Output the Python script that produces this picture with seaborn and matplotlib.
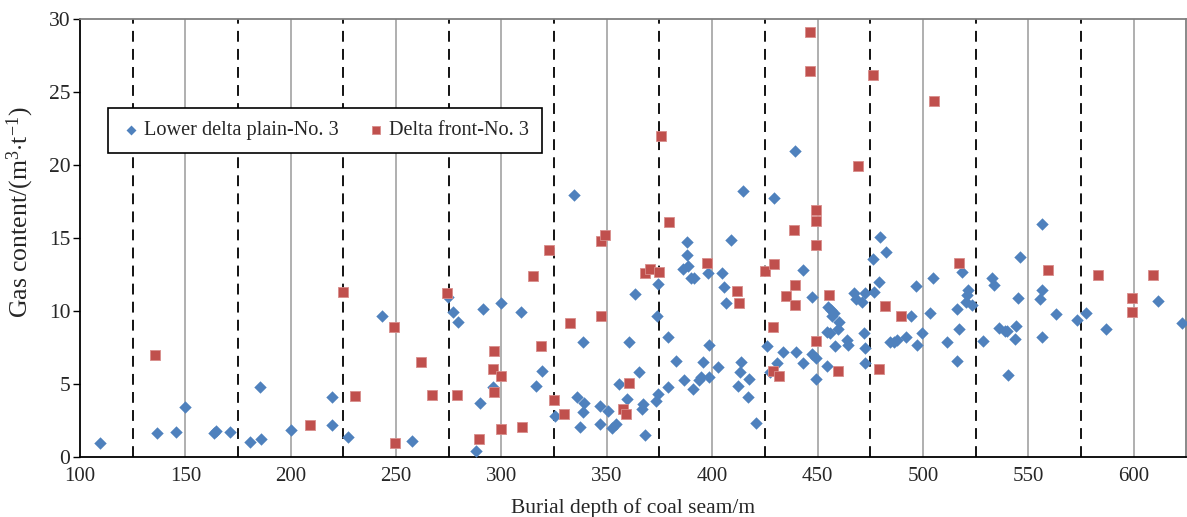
import matplotlib
matplotlib.use("Agg")
import matplotlib.pyplot as plt
import seaborn as sns
import pandas as pd

# ---------------- data ----------------
lower_x = [109.3, 136.6, 145.7, 150.0, 163.5, 164.7, 171.0, 180.8, 185.8, 185.2, 199.9, 219.5, 219.5, 227.3,
           243.4, 257.4, 274.5, 276.9, 279.4, 287.9, 290.0, 291.3, 296.2, 299.6, 309.4, 316.4, 319.4, 325.6,
           334.6, 335.8, 338.5, 339.3, 338.5, 337.4, 346.7, 350.7, 346.7, 352.7, 354.3, 355.9, 360.6, 359.8,
           363.3, 365.1, 366.5, 367.4, 368.2, 373.3, 374.5, 373.6, 374.5, 379.0, 379.1, 382.8, 386.2, 388.3,
           388.0, 388.0, 386.7, 389.9, 391.4, 391.0, 393.8, 394.6, 395.7, 398.3, 398.3, 397.8, 403.0, 404.6,
           405.4, 406.5, 408.9, 412.3, 413.1, 413.9, 414.7, 417.5, 417.2, 421.0, 426.2, 427.4, 429.4, 431.0,
           433.8, 439.4, 439.7, 443.3, 443.3, 447.3, 447.3, 449.5, 449.3, 454.5, 454.7, 456.0, 455.0, 456.6,
           458.0, 456.7, 458.4, 459.8, 460.3, 463.9, 464.5, 467.3, 468.4, 471.3, 472.4, 472.1, 472.4, 472.6,
           476.5, 476.8, 479.2, 479.5, 482.4, 484.3, 486.3, 487.9, 491.8, 494.2, 496.6, 497.4, 499.4, 503.2,
           504.9, 511.6, 516.3, 516.3, 517.1, 518.4, 521.6, 520.8, 520.3, 523.4, 528.7, 532.9, 533.7, 536.1,
           538.9, 540.0, 540.4, 543.5, 544.3, 545.2, 545.9, 556.6, 556.6, 555.8, 556.6, 563.2, 572.9, 577.2,
           586.7, 611.5, 623.0]
lower_y = [0.96, 1.64, 1.75, 3.42, 1.64, 1.8, 1.75, 1.07, 1.27, 4.8, 1.84, 4.1, 2.2, 1.4,
           9.68, 1.1, 11.0, 9.97, 9.24, 0.45, 3.7, 10.16, 4.84, 10.6, 9.97, 4.9, 5.89, 2.83,
           18.0, 4.1, 7.92, 3.74, 3.08, 2.05, 3.5, 3.18, 2.28, 2.0, 2.3, 5.0, 7.92, 4.0,
           11.18, 5.86, 3.29, 3.63, 1.53, 3.86, 4.34, 9.68, 11.87, 8.26, 4.84, 6.62, 12.88, 13.1,
           13.86, 14.77, 5.3, 12.26, 12.26, 4.66, 5.3, 5.5, 6.55, 5.53, 7.69, 12.6, 6.16, 12.6,
           11.64, 10.59, 14.88, 4.9, 5.86, 6.55, 18.24, 5.36, 4.15, 2.33, 7.62, 5.86, 17.78, 6.48,
           7.23, 21.0, 7.23, 12.83, 6.44, 11.0, 7.07, 6.78, 5.36, 6.27, 8.6, 8.5, 10.3, 10.1,
           9.9, 9.7, 7.62, 8.76, 9.25, 8.03, 7.7, 11.27, 10.84, 10.66, 11.27, 8.54, 7.46, 6.44,
           13.58, 11.34, 12.03, 15.11, 14.08, 7.92, 7.92, 8.03, 8.26, 9.68, 11.73, 7.69, 8.5, 9.9,
           12.3, 7.88, 10.16, 6.62, 8.77, 12.71, 11.46, 11.1, 10.66, 10.4, 7.99, 12.26, 11.8, 8.88,
           8.65, 8.65, 5.61, 8.1, 8.97, 10.89, 13.74, 15.96, 11.46, 10.84, 8.26, 9.79, 9.4, 9.9,
           8.77, 10.73, 9.18]

front_x = [135.4, 209.2, 224.9, 230.7, 248.9, 249.7, 261.9, 266.9, 274.2, 278.8, 289.2, 296.6, 295.8, 296.3,
           299.6, 299.6, 309.6, 315.2, 318.7, 322.5, 324.9, 329.6, 332.5, 347.4, 347.4, 349.0, 357.5, 359.1,
           360.6, 368.0, 370.4, 374.9, 375.7, 379.3, 397.6, 411.6, 412.8, 425.0, 429.4, 429.1, 429.0, 431.5,
           435.0, 439.0, 439.4, 439.4, 446.3, 446.3, 449.5, 449.5, 449.5, 449.5, 455.5, 459.5, 469.4, 476.5,
           481.9, 479.2, 489.5, 505.3, 517.1, 559.3, 583.2, 599.3, 599.3, 609.3]
front_y = [7.0, 2.2, 11.3, 4.2, 8.95, 1.0, 6.5, 4.27, 11.23, 4.27, 1.23, 7.28, 6.03, 4.5,
           5.57, 1.92, 2.05, 12.44, 7.64, 14.18, 3.92, 3.0, 9.18, 9.68, 14.8, 15.2, 3.29, 3.0,
           5.07, 12.6, 12.88, 12.72, 22.03, 16.14, 13.33, 11.41, 10.55, 12.78, 13.22, 8.9, 5.91, 5.57,
           11.05, 15.6, 11.8, 10.43, 29.15, 26.46, 16.94, 16.18, 14.52, 7.99, 11.12, 5.91, 19.95, 26.18,
           10.36, 6.03, 9.68, 24.4, 13.29, 12.83, 12.46, 10.89, 9.93, 12.46]

series_names = ["Lower delta plain-No. 3", "Delta front-No. 3"]
x_ticks = [100, 150, 200, 250, 300, 350, 400, 450, 500, 550, 600]
solid_lines = [150, 200, 250, 300, 350, 400, 450, 500, 550, 600]
dashed_lines = [125, 175, 225, 275, 325, 375, 425, 475, 525, 575]
y_ticks = [0, 5, 10, 15, 20, 25, 30]

df_lower = pd.DataFrame({"depth": lower_x, "gas": lower_y, "group": series_names[0]})
df_front = pd.DataFrame({"depth": front_x, "gas": front_y, "group": series_names[1]})

# ---------------- style ----------------
sns.set_style("white")
plt.rcParams["font.family"] = ["Liberation Serif", "DejaVu Serif"]
plt.rcParams["mathtext.fontset"] = "custom"
plt.rcParams["mathtext.rm"] = "Liberation Serif"
plt.rcParams["mathtext.it"] = "Liberation Serif:italic"

fig = plt.figure(figsize=(11.87, 5.17), dpi=100)
ax = fig.add_axes([80 / 1187, 1 - 457.3 / 517, 1106.3 / 1187, 438 / 517])

for xv in solid_lines:
    ax.axvline(xv, color="#9a9a9a", lw=1.1, zorder=1)
for xv in dashed_lines:
    ax.axvline(xv, color="black", lw=1.3, ls=(0, (6, 4)), zorder=1)

blue = "#4F81BD"
red = "#C0504D"
sns.scatterplot(data=df_lower, x="depth", y="gas", marker="D", color=blue, s=40,
                linewidth=0, label=series_names[0], ax=ax, zorder=3)
sns.scatterplot(data=df_front, x="depth", y="gas", marker="s", color=red, s=50,
                linewidth=0.6, edgecolor="#d98d8b", label=series_names[1], ax=ax, zorder=3)

ax.set_xlim(100, 625)
ax.set_ylim(0, 30)
ax.set_xticks(x_ticks)
ax.set_yticks(y_ticks)
ax.tick_params(axis="x", length=0, pad=7, labelsize=15)
ax.tick_params(axis="y", length=5, width=1, direction="out", pad=2, labelsize=15.5, color="black", left=True)

for side in ["left", "bottom"]:
    ax.spines[side].set_color("black")
    ax.spines[side].set_linewidth(1.3)
for side in ["top", "right"]:
    ax.spines[side].set_color("#808080")
    ax.spines[side].set_linewidth(1.3)
    ax.spines[side].set_visible(True)

ax.set_xlabel("Burial depth of coal seam/m", fontsize=15.5, labelpad=9)
ax.set_ylabel(r"Gas content/(m$^{3}$$\cdot$t$^{-1}$)", fontsize=18.5, va="center")
ax.yaxis.set_label_coords(-0.0536, 0.56)

leg = ax.legend(loc="upper left", bbox_to_anchor=(0.0253, 0.798), ncol=2, fontsize=14.6,
                frameon=True, fancybox=False, edgecolor="black", framealpha=1,
                handletextpad=0.15, columnspacing=1.3, handlelength=1.0, borderpad=0.65,
                markerscale=0.8, borderaxespad=0)
leg.get_frame().set_linewidth(1.2)

fig.savefig("out.png", dpi=100)
